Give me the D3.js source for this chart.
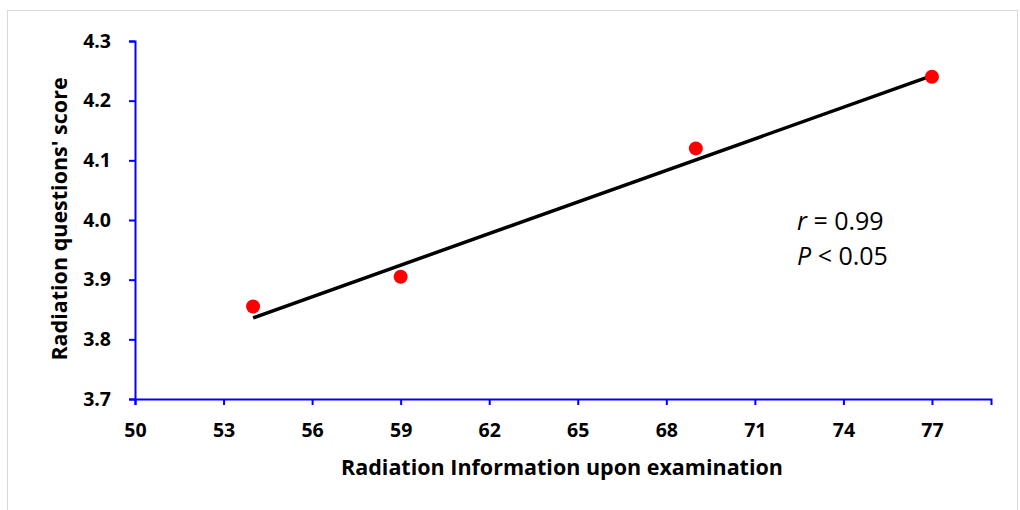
<!DOCTYPE html>
<meta charset="utf-8">
<style>
body { margin: 0; background: #fff; }
svg { display: block; }
.tick text { font-family: 'Open Sans', sans-serif; font-weight: bold; font-size: 19.5px; fill: #000; }
.axis-title { font-family: 'Open Sans', sans-serif; font-weight: bold; font-size: 21.5px; }
.stat { font-family: 'Open Sans', sans-serif; font-size: 25px; }
</style>
<body>
<div id="chart"></div>
<script src="https://cdn.jsdelivr.net/npm/d3@7"></script>
<script>
// points
var infoScore = [54, 59, 69, 77];
var questionScore = [3.855, 3.905, 4.12, 4.24];

// fitted line ends
var fitX = [54, 77];
var fitY = [3.836, 4.242];

var xTicks = [50, 53, 56, 59, 62, 65, 68, 71, 74, 77];
var yTicks = [3.7, 3.8, 3.9, 4.0, 4.1, 4.2, 4.3];

var svg = d3.select('#chart')
  .append('svg')
  .attr('width', 1020)
  .attr('height', 510);

svg.append('rect')
  .attr('x', 7.5).attr('y', 10.5)
  .attr('width', 1010).attr('height', 505)
  .attr('fill', 'none')
  .attr('stroke', '#d9d9d9');

var x = d3.scaleLinear().domain([50, 79]).range([135, 991]);
var y = d3.scaleLinear().domain([3.7, 4.3]).range([399, 41]);

var xAxis = svg.append('g')
  .attr('transform', 'translate(0,' + y(3.7) + ')')
  .call(d3.axisBottom(x).tickValues(xTicks).tickSize(6).tickPadding(18).tickFormat(d3.format('d')));

var yAxis = svg.append('g')
  .attr('transform', 'translate(' + x(50) + ',0)')
  .call(d3.axisLeft(y).tickValues(yTicks).tickSize(6).tickPadding(18).tickFormat(d3.format('.1f')));

[xAxis, yAxis].forEach(function(g) {
  g.select('.domain').attr('stroke', '#0000ff').attr('stroke-width', 2);
  g.selectAll('.tick line').attr('stroke', '#0000ff').attr('stroke-width', 2);
});

svg.append('text')
  .attr('class', 'axis-title')
  .attr('x', 562).attr('y', 475)
  .attr('text-anchor', 'middle')
  .text('Radiation Information upon examination');

svg.append('text')
  .attr('class', 'axis-title')
  .attr('transform', 'translate(67,219) rotate(-90)')
  .attr('text-anchor', 'middle')
  .text("Radiation questions' score");

svg.append('line')
  .attr('x1', x(fitX[0])).attr('y1', y(fitY[0]))
  .attr('x2', x(fitX[1])).attr('y2', y(fitY[1]))
  .attr('stroke', '#000')
  .attr('stroke-width', 3.5);

svg.selectAll('circle.pt')
  .data(infoScore)
  .enter().append('circle')
  .attr('class', 'pt')
  .attr('cx', function(d) { return x(d); })
  .attr('cy', function(d, i) { return y(questionScore[i]); })
  .attr('r', 7)
  .attr('fill', '#ff0000');

var t1 = svg.append('text').attr('class', 'stat').attr('x', 797).attr('y', 230);
t1.append('tspan').attr('font-style', 'italic').text('r');
t1.append('tspan').text(' = 0.99');

var t2 = svg.append('text').attr('class', 'stat').attr('x', 797).attr('y', 265);
t2.append('tspan').attr('font-style', 'italic').text('P');
t2.append('tspan').text(' < 0.05');
</script>
</body>
